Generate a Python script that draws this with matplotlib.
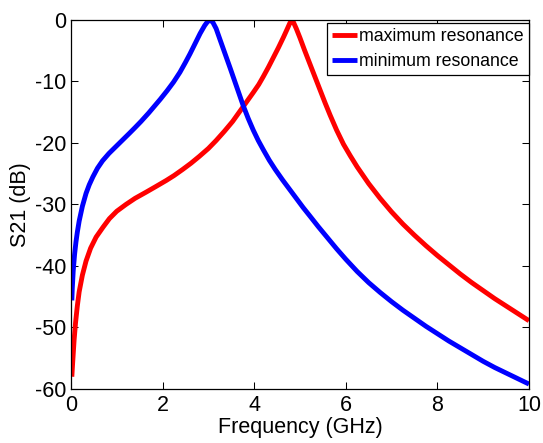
import matplotlib
matplotlib.use("Agg")
import matplotlib.pyplot as plt

plt.rcParams['font.family'] = ['Liberation Sans', 'DejaVu Sans']
plt.rcParams['axes.unicode_minus'] = False

# Transmission of the tunable resonator at both ends of its tuning range
freq_max = [0.02, 0.04, 0.07, 0.10, 0.14, 0.18, 0.25, 0.33, 0.43, 0.55, 0.70,
            0.84, 1.00, 1.20, 1.40, 1.64, 1.85, 2.08, 2.25, 2.44, 2.62, 2.80,
            3.00, 3.17, 3.35, 3.53, 3.76, 3.98, 4.10, 4.20, 4.31, 4.42, 4.53,
            4.64, 4.72, 4.78, 4.82, 4.86, 4.92, 5.00, 5.10, 5.22, 5.33, 5.44,
            5.55, 5.66, 5.80, 5.95, 6.10, 6.25, 6.50, 6.75, 7.00, 7.25, 7.50,
            7.75, 8.00, 8.25, 8.50, 8.75, 9.00, 9.25, 9.50, 9.75, 10.00]
s21_max = [-58.0, -55.5, -52.0, -49.3, -46.5, -44.2, -41.5, -39.2, -37.1,
           -35.3, -33.7, -32.3, -31.1, -30.0, -29.0, -28.0, -27.1, -26.1,
           -25.3, -24.3, -23.3, -22.2, -20.9, -19.6, -18.1, -16.5, -14.1,
           -11.8, -10.5, -9.2, -7.7, -6.1, -4.5, -2.8, -1.5, -0.5, 0.0, -0.4,
           -1.4, -2.9, -4.9, -7.2, -9.3, -11.4, -13.5, -15.5, -17.9, -20.2,
           -22.1, -23.9, -26.6, -29.0, -31.2, -33.2, -35.0, -36.7, -38.3,
           -39.8, -41.3, -42.7, -44.0, -45.3, -46.5, -47.7, -48.9]

freq_min = [0.02, 0.03, 0.05, 0.08, 0.11, 0.14, 0.18, 0.25, 0.33, 0.40, 0.48,
            0.58, 0.69, 0.83, 0.98, 1.13, 1.28, 1.40, 1.53, 1.70, 1.95, 2.10,
            2.24, 2.38, 2.50, 2.60, 2.72, 2.82, 2.92, 2.98, 3.04, 3.10, 3.17,
            3.26, 3.37, 3.48, 3.55, 3.62, 3.69, 3.76, 3.87, 3.98, 4.09, 4.20,
            4.33, 4.46, 4.62, 4.78, 4.93, 5.07, 5.22, 5.40, 5.60, 5.80, 6.00,
            6.25, 6.50, 6.75, 7.00, 7.25, 7.50, 7.75, 8.00, 8.25, 8.50, 8.75,
            9.00, 9.25, 9.50, 9.75, 10.00]
s21_min = [-45.6, -43.6, -40.8, -38.1, -36.1, -34.5, -32.7, -30.3, -28.2,
           -26.8, -25.5, -24.1, -22.9, -21.7, -20.6, -19.5, -18.4, -17.5,
           -16.5, -15.1, -12.9, -11.5, -10.1, -8.5, -6.9, -5.5, -3.7, -2.2,
           -0.9, -0.3, 0.0, -0.4, -1.4, -3.3, -5.6, -7.9, -9.4, -10.9, -12.4,
           -13.9, -16.0, -17.9, -19.6, -21.1, -22.8, -24.3, -26.0, -27.6,
           -29.1, -30.5, -31.9, -33.6, -35.4, -37.2, -38.9, -40.9, -42.7,
           -44.3, -45.8, -47.2, -48.5, -49.8, -51.0, -52.2, -53.3, -54.4,
           -55.5, -56.5, -57.4, -58.3, -59.2]

x_ticks = [0, 2, 4, 6, 8, 10]
y_ticks = [-60, -50, -40, -30, -20, -10, 0]

fig = plt.figure(figsize=(5.43, 4.43), dpi=100)
ax = fig.add_axes([0.1306, 0.1219, 0.8436, 0.8330])

ax.plot(freq_max, s21_max, color='#ff0000', lw=3.5, label='maximum resonance',
        solid_joinstyle='round', solid_capstyle='butt')
ax.plot(freq_min, s21_min, color='#0000ff', lw=3.5, label='minimum resonance',
        solid_joinstyle='round', solid_capstyle='butt')

ax.set_xlim(0, 10)
ax.set_ylim(-60, 0)
ax.set_xticks(x_ticks)
ax.set_yticks(y_ticks)
ax.tick_params(direction='in', length=5, width=0.75, top=True, right=True,
               labelsize=15.5, colors='black')
ax.tick_params(axis='x', pad=4)
ax.tick_params(axis='y', pad=3)
for sp in ax.spines.values():
    sp.set_linewidth(0.9)
    sp.set_color('black')

ax.set_xlabel('Frequency (GHz)', fontsize=15.5, labelpad=1)
ax.set_ylabel('S21 (dB)', fontsize=15.5, labelpad=3)

leg = ax.legend(loc='upper right', bbox_to_anchor=(1.0, 0.992),
                borderaxespad=0, fontsize=12.8, handlelength=1.4,
                handletextpad=0.1, borderpad=0.3, labelspacing=0.42,
                fancybox=False, framealpha=1, edgecolor='black')
leg.get_frame().set_linewidth(0.9)

fig.savefig('out.png', dpi=100)
